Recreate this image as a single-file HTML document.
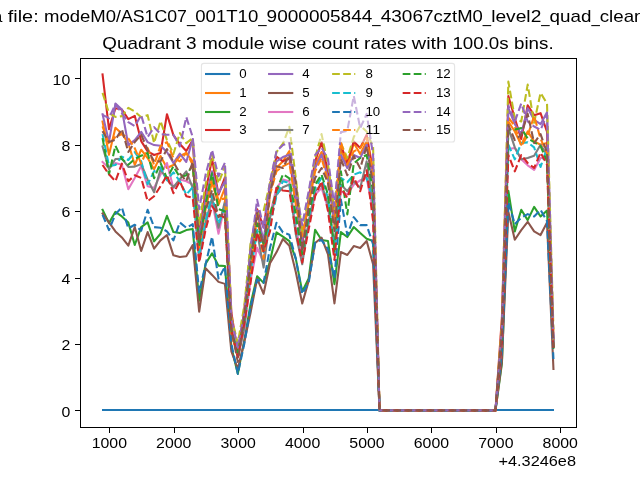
<!DOCTYPE html>
<html><head><meta charset="utf-8"><title>Quadrant 3 module wise count rates</title>
<style>
html,body{margin:0;padding:0;background:#fff;overflow:hidden}
body{width:640px;height:480px;font-family:"Liberation Sans",sans-serif}
svg{display:block}
svg text{font-family:"Liberation Sans",sans-serif;fill:#000}
svg{will-change:transform}
.ln{fill:none;stroke-width:2.0833;stroke-linejoin:round}
.s{stroke-linecap:square}
.d{stroke-linecap:butt;stroke-dasharray:7.708 3.333}
.tk{stroke:#000;stroke-width:1;shape-rendering:crispEdges}
</style></head>
<body>
<svg width="640" height="480" viewBox="0 0 640 480">
<rect x="0" y="0" width="640" height="480" fill="#fff"/>
<defs><clipPath id="ax"><rect x="80.00" y="57.60" width="496.00" height="369.60"/></clipPath></defs>
<g clip-path="url(#ax)">
<rect x="102" y="409" width="452" height="2" fill="#1f77b4" shape-rendering="crispEdges"/>
<polyline class="ln s" stroke="#ff7f0e" points="102.55,121.49 108.99,154.70 115.43,127.80 121.87,133.78 128.31,143.07 134.75,164.99 141.19,149.72 147.64,158.02 154.08,169.31 160.52,156.03 166.96,167.98 173.40,164.99 179.84,156.03 186.29,153.04 192.73,161.34 199.17,244.36 205.61,208.16 212.05,182.26 218.49,204.51 224.93,187.91 231.38,335.35 237.82,352.29 244.26,322.73 250.70,252.66 257.14,212.81 263.58,245.69 270.03,191.23 276.47,167.98 282.91,161.34 289.35,151.04 295.79,194.55 302.23,237.72 308.67,202.85 315.12,164.66 321.56,152.04 328.00,174.62 334.44,221.11 340.88,148.06 347.32,167.32 353.77,143.07 360.21,154.03 366.65,141.41 373.09,177.94 379.53,410.40 385.97,410.40 392.42,410.40 398.86,410.40 405.30,410.40 411.74,410.40 418.18,410.40 424.62,410.40 431.06,410.40 437.51,410.40 443.95,410.40 450.39,410.40 456.83,410.40 463.27,410.40 469.71,410.40 476.16,410.40 482.60,410.40 489.04,410.40 495.48,410.40 501.92,331.70 508.36,121.49 514.80,131.45 521.25,144.73 527.69,131.45 534.13,141.41 540.57,144.73 547.01,143.07 553.45,339.67"/>
<polyline class="ln s" stroke="#2ca02c" points="102.55,209.82 108.99,223.11 115.43,211.82 121.87,216.46 128.31,222.44 134.75,245.02 141.19,227.09 147.64,222.44 154.08,241.37 160.52,233.73 166.96,215.80 173.40,232.07 179.84,233.07 186.29,230.08 192.73,229.08 199.17,300.81 205.61,263.62 212.05,253.33 218.49,265.61 224.93,265.94 231.38,347.30 237.82,373.87 244.26,340.33 250.70,303.47 257.14,276.24 263.58,282.88 270.03,260.96 276.47,232.40 282.91,236.72 289.35,241.04 295.79,258.64 302.23,291.51 308.67,278.56 315.12,229.75 321.56,240.04 328.00,241.04 334.44,284.21 340.88,232.07 347.32,237.05 353.77,227.09 360.21,233.07 366.65,238.71 373.09,241.04 379.53,410.40 385.97,410.40 392.42,410.40 398.86,410.40 405.30,410.40 411.74,410.40 418.18,410.40 424.62,410.40 431.06,410.40 437.51,410.40 443.95,410.40 450.39,410.40 456.83,410.40 463.27,410.40 469.71,410.40 476.16,410.40 482.60,410.40 489.04,410.40 495.48,410.40 501.92,363.24 508.36,190.89 514.80,231.41 521.25,209.82 527.69,220.12 534.13,206.83 540.57,216.46 547.01,210.49 553.45,347.30"/>
<polyline class="ln s" stroke="#d62728" points="102.55,74.40 108.99,129.13 115.43,108.21 121.87,109.53 128.31,119.16 134.75,115.84 141.19,141.08 147.64,151.38 154.08,155.03 160.52,153.04 166.96,114.18 173.40,135.10 179.84,144.07 186.29,151.04 192.73,140.09 199.17,234.40 205.61,191.56 212.05,159.01 218.49,194.55 224.93,177.28 231.38,312.44 237.82,353.61 244.26,310.11 250.70,248.68 257.14,209.16 263.58,227.42 270.03,184.58 276.47,156.69 282.91,161.34 289.35,158.02 295.79,201.19 302.23,244.36 308.67,197.87 315.12,161.34 321.56,142.08 328.00,171.30 334.44,217.79 340.88,144.73 347.32,163.00 353.77,141.41 360.21,148.06 366.65,134.77 373.09,171.30 379.53,410.40 385.97,410.40 392.42,410.40 398.86,410.40 405.30,410.40 411.74,410.40 418.18,410.40 424.62,410.40 431.06,410.40 437.51,410.40 443.95,410.40 450.39,410.40 456.83,410.40 463.27,410.40 469.71,410.40 476.16,410.40 482.60,410.40 489.04,410.40 495.48,410.40 501.92,317.42 508.36,95.92 514.80,118.17 521.25,139.09 527.69,105.22 534.13,115.18 540.57,113.19 547.01,131.78 553.45,345.98"/>
<polyline class="ln s" stroke="#9467bd" points="102.55,114.18 108.99,142.08 115.43,103.56 121.87,109.53 128.31,145.07 134.75,140.09 141.19,131.78 147.64,142.08 154.08,145.07 160.52,145.73 166.96,152.04 173.40,163.00 179.84,153.70 186.29,162.00 192.73,139.09 199.17,237.72 205.61,199.53 212.05,171.30 218.49,193.22 224.93,181.26 231.38,322.40 237.82,350.63 244.26,321.40 250.70,245.02 257.14,210.82 263.58,241.37 270.03,187.91 276.47,161.34 282.91,157.02 289.35,154.70 295.79,197.87 302.23,241.04 308.67,201.19 315.12,167.98 321.56,154.70 328.00,177.94 334.44,224.43 340.88,154.70 347.32,167.98 353.77,155.03 360.21,158.02 366.65,144.73 373.09,181.26 379.53,410.40 385.97,410.40 392.42,410.40 398.86,410.40 405.30,410.40 411.74,410.40 418.18,410.40 424.62,410.40 431.06,410.40 437.51,410.40 443.95,410.40 450.39,410.40 456.83,410.40 463.27,410.40 469.71,410.40 476.16,410.40 482.60,410.40 489.04,410.40 495.48,410.40 501.92,327.05 508.36,108.21 514.80,124.15 521.25,134.11 527.69,108.21 534.13,119.83 540.57,124.15 547.01,112.19 553.45,342.32"/>
<polyline class="ln s" stroke="#8c564b" points="102.55,213.48 108.99,222.44 115.43,231.41 121.87,237.39 128.31,245.69 134.75,227.09 141.19,251.00 147.64,232.07 154.08,248.68 160.52,240.37 166.96,235.06 173.40,255.32 179.84,256.98 186.29,256.31 192.73,245.02 199.17,311.77 205.61,268.27 212.05,274.91 218.49,281.88 224.93,283.88 231.38,351.29 237.82,368.89 244.26,342.32 250.70,312.10 257.14,278.56 263.58,293.84 270.03,263.29 276.47,252.33 282.91,239.05 289.35,245.69 295.79,271.92 302.23,303.47 308.67,280.89 315.12,243.03 321.56,237.72 328.00,254.32 334.44,303.47 340.88,252.00 347.32,254.99 353.77,246.02 360.21,248.01 366.65,241.04 373.09,264.28 379.53,410.40 385.97,410.40 392.42,410.40 398.86,410.40 405.30,410.40 411.74,410.40 418.18,410.40 424.62,410.40 431.06,410.40 437.51,410.40 443.95,410.40 450.39,410.40 456.83,410.40 463.27,410.40 469.71,410.40 476.16,410.40 482.60,410.40 489.04,410.40 495.48,410.40 501.92,361.25 508.36,211.82 514.80,239.71 521.25,230.08 527.69,221.78 534.13,231.41 540.57,235.06 547.01,222.44 553.45,368.89"/>
<polyline class="ln s" stroke="#e377c2" points="102.55,162.00 108.99,167.98 115.43,163.00 121.87,164.66 128.31,189.23 134.75,177.94 141.19,165.99 147.64,186.25 154.08,187.91 160.52,174.62 166.96,163.00 173.40,188.24 179.84,179.60 186.29,181.26 192.73,184.58 199.17,259.30 205.61,225.10 212.05,201.19 218.49,233.73 224.93,204.51 231.38,323.73 237.82,356.60 244.26,330.04 250.70,279.23 257.14,247.68 263.58,262.62 270.03,214.47 276.47,187.91 282.91,179.60 289.35,181.26 295.79,227.76 302.23,257.64 308.67,224.43 315.12,194.55 321.56,187.91 328.00,207.83 334.44,247.68 340.88,191.23 347.32,194.55 353.77,184.58 360.21,180.27 366.65,177.94 373.09,211.15 379.53,410.40 385.97,410.40 392.42,410.40 398.86,410.40 405.30,410.40 411.74,410.40 418.18,410.40 424.62,410.40 431.06,410.40 437.51,410.40 443.95,410.40 450.39,410.40 456.83,410.40 463.27,410.40 469.71,410.40 476.16,410.40 482.60,410.40 489.04,410.40 495.48,410.40 501.92,341.66 508.36,149.05 514.80,148.06 521.25,159.35 527.69,165.32 534.13,169.97 540.57,158.02 547.01,158.02 553.45,345.31"/>
<polyline class="ln s" stroke="#7f7f7f" points="102.55,146.40 108.99,169.31 115.43,159.01 121.87,158.68 128.31,166.98 134.75,166.65 141.19,164.00 147.64,179.60 154.08,192.22 160.52,169.31 166.96,179.60 173.40,187.24 179.84,179.27 186.29,171.30 192.73,187.91 199.17,257.64 205.61,222.77 212.05,197.87 218.49,227.76 224.93,201.19 231.38,331.36 237.82,357.27 244.26,328.04 250.70,264.28 257.14,232.40 263.58,267.60 270.03,217.79 276.47,194.55 282.91,187.24 289.35,184.58 295.79,234.40 302.23,264.28 308.67,221.11 315.12,191.23 321.56,184.58 328.00,204.51 334.44,244.36 340.88,184.58 347.32,191.23 353.77,181.26 360.21,187.91 366.65,161.34 373.09,204.51 379.53,410.40 385.97,410.40 392.42,410.40 398.86,410.40 405.30,410.40 411.74,410.40 418.18,410.40 424.62,410.40 431.06,410.40 437.51,410.40 443.95,410.40 450.39,410.40 456.83,410.40 463.27,410.40 469.71,410.40 476.16,410.40 482.60,410.40 489.04,410.40 495.48,410.40 501.92,345.64 508.36,128.13 514.80,147.39 521.25,159.35 527.69,158.02 534.13,155.69 540.57,144.73 547.01,154.70 553.45,346.31"/>
<polyline class="ln d" stroke="#bcbd22" points="102.55,92.93 108.99,113.19 115.43,116.84 121.87,116.18 128.31,107.87 134.75,111.53 141.19,117.17 147.64,115.18 154.08,143.07 160.52,121.16 166.96,140.09 173.40,154.03 179.84,133.11 186.29,143.07 192.73,138.09 199.17,224.43 205.61,184.58 212.05,154.70 218.49,183.26 224.93,166.32 231.38,317.42 237.82,343.32 244.26,305.79 250.70,242.37 257.14,214.47 263.58,211.15 270.03,182.92 276.47,152.04 282.91,143.74 289.35,126.80 295.79,177.94 302.23,234.40 308.67,194.55 315.12,158.02 321.56,134.11 328.00,164.66 334.44,209.16 340.88,143.07 347.32,158.02 353.77,137.10 360.21,125.81 366.65,131.45 373.09,147.06 379.53,410.40 385.97,410.40 392.42,410.40 398.86,410.40 405.30,410.40 411.74,410.40 418.18,410.40 424.62,410.40 431.06,410.40 437.51,410.40 443.95,410.40 450.39,410.40 456.83,410.40 463.27,410.40 469.71,410.40 476.16,410.40 482.60,410.40 489.04,410.40 495.48,410.40 501.92,322.07 508.36,81.64 514.80,118.17 521.25,121.49 527.69,84.63 534.13,122.82 540.57,92.93 547.01,103.56 553.45,329.70"/>
<polyline class="ln d" stroke="#17becf" points="102.55,134.11 108.99,165.99 115.43,164.99 121.87,156.69 128.31,160.01 134.75,152.04 141.19,161.34 147.64,184.25 154.08,171.30 160.52,167.32 166.96,180.27 173.40,172.30 179.84,181.26 186.29,194.55 192.73,187.24 199.17,254.32 205.61,219.79 212.05,195.21 218.49,223.77 224.93,207.83 231.38,330.37 237.82,355.27 244.26,317.75 250.70,271.92 257.14,229.75 263.58,252.33 270.03,224.43 276.47,196.21 282.91,181.26 289.35,182.92 295.79,221.11 302.23,254.32 308.67,217.79 315.12,187.91 321.56,177.94 328.00,197.87 334.44,252.66 340.88,177.94 347.32,182.26 353.77,174.62 360.21,172.30 366.65,177.94 373.09,201.19 379.53,410.40 385.97,410.40 392.42,410.40 398.86,410.40 405.30,410.40 411.74,410.40 418.18,410.40 424.62,410.40 431.06,410.40 437.51,410.40 443.95,410.40 450.39,410.40 456.83,410.40 463.27,410.40 469.71,410.40 476.16,410.40 482.60,410.40 489.04,410.40 495.48,410.40 501.92,337.67 508.36,144.73 514.80,159.35 521.25,143.07 527.69,142.41 534.13,147.39 540.57,166.98 547.01,148.06 553.45,343.32"/>
<polyline class="ln d" stroke="#1f77b4" points="102.55,214.80 108.99,230.08 115.43,214.14 121.87,207.50 128.31,228.42 134.75,224.77 141.19,230.74 147.64,209.82 154.08,227.09 160.52,227.76 166.96,231.41 173.40,240.37 179.84,222.44 186.29,227.76 192.73,224.10 199.17,292.51 205.61,264.28 212.05,236.72 218.49,278.56 224.93,266.61 231.38,343.98 237.82,373.87 244.26,343.98 250.70,306.13 257.14,279.56 263.58,282.88 270.03,247.68 276.47,222.77 282.91,232.40 289.35,234.73 295.79,258.64 302.23,293.84 308.67,282.88 315.12,242.70 321.56,240.04 328.00,249.01 334.44,278.23 340.88,199.53 347.32,235.06 353.77,217.13 360.21,225.10 366.65,225.10 373.09,244.36 379.53,410.40 385.97,410.40 392.42,410.40 398.86,410.40 405.30,410.40 411.74,410.40 418.18,410.40 424.62,410.40 431.06,410.40 437.51,410.40 443.95,410.40 450.39,410.40 456.83,410.40 463.27,410.40 469.71,410.40 476.16,410.40 482.60,410.40 489.04,410.40 495.48,410.40 501.92,350.63 508.36,202.18 514.80,224.10 521.25,217.79 527.69,214.14 534.13,216.46 540.57,209.82 547.01,221.11 553.45,358.93"/>
<polyline class="ln d" stroke="#ff7f0e" points="102.55,126.47 108.99,144.73 115.43,136.76 121.87,134.11 128.31,138.43 134.75,148.06 141.19,163.66 147.64,148.06 154.08,164.66 160.52,146.06 166.96,142.08 173.40,158.02 179.84,161.34 186.29,152.70 192.73,164.66 199.17,247.68 205.61,207.83 212.05,177.94 218.49,200.19 224.93,198.20 231.38,333.69 237.82,354.61 244.26,317.09 250.70,271.92 257.14,215.14 263.58,258.64 270.03,194.55 276.47,171.30 282.91,166.32 289.35,163.00 295.79,204.51 302.23,236.06 308.67,204.51 315.12,171.30 321.56,158.02 328.00,181.26 334.44,227.76 340.88,142.08 347.32,164.66 353.77,151.38 360.21,148.06 366.65,138.09 373.09,174.62 379.53,410.40 385.97,410.40 392.42,410.40 398.86,410.40 405.30,410.40 411.74,410.40 418.18,410.40 424.62,410.40 431.06,410.40 437.51,410.40 443.95,410.40 450.39,410.40 456.83,410.40 463.27,410.40 469.71,410.40 476.16,410.40 482.60,410.40 489.04,410.40 495.48,410.40 501.92,326.72 508.36,117.50 514.80,126.14 521.25,146.06 527.69,135.44 534.13,116.18 540.57,138.76 547.01,153.04 553.45,340.33"/>
<polyline class="ln d" stroke="#2ca02c" points="102.55,138.09 108.99,174.29 115.43,145.73 121.87,159.01 128.31,164.66 134.75,159.01 141.19,155.69 147.64,153.04 154.08,178.28 160.52,163.00 166.96,178.28 173.40,166.32 179.84,177.28 186.29,175.29 192.73,164.99 199.17,246.02 205.61,204.51 212.05,173.29 218.49,209.16 224.93,211.15 231.38,330.37 237.82,352.62 244.26,319.74 250.70,257.97 257.14,223.44 263.58,243.70 270.03,214.47 276.47,191.23 282.91,174.29 289.35,178.28 295.79,214.47 302.23,254.32 308.67,214.47 315.12,184.58 321.56,174.62 328.00,194.55 334.44,251.00 340.88,171.30 347.32,214.47 353.77,163.33 360.21,158.02 366.65,155.03 373.09,191.23 379.53,410.40 385.97,410.40 392.42,410.40 398.86,410.40 405.30,410.40 411.74,410.40 418.18,410.40 424.62,410.40 431.06,410.40 437.51,410.40 443.95,410.40 450.39,410.40 456.83,410.40 463.27,410.40 469.71,410.40 476.16,410.40 482.60,410.40 489.04,410.40 495.48,410.40 501.92,337.34 508.36,129.46 514.80,129.46 521.25,128.13 527.69,138.43 534.13,142.08 540.57,146.06 547.01,161.34 553.45,348.63"/>
<polyline class="ln d" stroke="#d62728" points="102.55,164.99 108.99,174.29 115.43,181.26 121.87,163.66 128.31,181.26 134.75,175.29 141.19,177.94 147.64,201.19 154.08,196.21 160.52,186.25 166.96,175.29 173.40,193.22 179.84,181.26 186.29,196.21 192.73,197.87 199.17,262.62 205.61,229.42 212.05,206.17 218.49,214.47 224.93,217.79 231.38,330.04 237.82,357.27 244.26,323.39 250.70,281.88 257.14,232.40 263.58,251.33 270.03,231.08 276.47,187.91 282.91,190.56 289.35,191.23 295.79,231.08 302.23,262.62 308.67,229.42 315.12,196.21 321.56,181.26 328.00,211.15 334.44,259.97 340.88,187.91 347.32,197.87 353.77,177.28 360.21,191.23 366.65,170.31 373.09,221.11 379.53,410.40 385.97,410.40 392.42,410.40 398.86,410.40 405.30,410.40 411.74,410.40 418.18,410.40 424.62,410.40 431.06,410.40 437.51,410.40 443.95,410.40 450.39,410.40 456.83,410.40 463.27,410.40 469.71,410.40 476.16,410.40 482.60,410.40 489.04,410.40 495.48,410.40 501.92,340.99 508.36,155.03 514.80,171.30 521.25,155.03 527.69,163.00 534.13,167.98 540.57,152.70 547.01,164.66 553.45,350.63"/>
<polyline class="ln d" stroke="#9467bd" points="102.55,114.85 108.99,118.17 115.43,104.22 121.87,113.19 128.31,122.15 134.75,126.14 141.19,115.18 147.64,137.10 154.08,127.13 160.52,134.11 166.96,134.77 173.40,134.77 179.84,146.40 186.29,117.17 192.73,137.10 199.17,209.16 205.61,174.62 212.05,150.05 218.49,176.28 224.93,162.67 231.38,318.75 237.82,347.64 244.26,313.10 250.70,249.01 257.14,199.86 263.58,227.76 270.03,181.26 276.47,151.38 282.91,145.07 289.35,143.07 295.79,187.91 302.23,225.10 308.67,191.23 315.12,155.03 321.56,147.72 328.00,159.01 334.44,206.17 340.88,132.12 347.32,130.79 353.77,95.92 360.21,128.13 366.65,113.85 373.09,155.03 379.53,410.40 385.97,410.40 392.42,410.40 398.86,410.40 405.30,410.40 411.74,410.40 418.18,410.40 424.62,410.40 431.06,410.40 437.51,410.40 443.95,410.40 450.39,410.40 456.83,410.40 463.27,410.40 469.71,410.40 476.16,410.40 482.60,410.40 489.04,410.40 495.48,410.40 501.92,328.71 508.36,105.55 514.80,121.49 521.25,103.56 527.69,121.49 534.13,126.47 540.57,129.79 547.01,114.85 553.45,339.33"/>
<polyline class="ln d" stroke="#8c564b" points="102.55,131.12 108.99,142.08 115.43,139.75 121.87,129.13 128.31,152.04 134.75,142.08 141.19,134.77 147.64,149.72 154.08,161.34 160.52,161.34 166.96,149.05 173.40,162.00 179.84,173.29 186.29,181.26 192.73,162.00 199.17,241.04 205.61,210.49 212.05,190.23 218.49,217.13 224.93,212.81 231.38,328.71 237.82,361.92 244.26,315.42 250.70,262.62 257.14,213.14 263.58,249.34 270.03,192.89 276.47,166.32 282.91,167.98 289.35,155.03 295.79,181.26 302.23,251.00 308.67,207.83 315.12,177.94 321.56,167.98 328.00,182.92 334.44,231.08 340.88,159.01 347.32,175.29 353.77,156.03 360.21,168.31 366.65,146.06 373.09,184.58 379.53,410.40 385.97,410.40 392.42,410.40 398.86,410.40 405.30,410.40 411.74,410.40 418.18,410.40 424.62,410.40 431.06,410.40 437.51,410.40 443.95,410.40 450.39,410.40 456.83,410.40 463.27,410.40 469.71,410.40 476.16,410.40 482.60,410.40 489.04,410.40 495.48,410.40 501.92,329.04 508.36,124.81 514.80,140.09 521.25,134.77 527.69,113.85 534.13,143.07 540.57,134.11 547.01,152.70 553.45,347.30"/>
</g>
<path class="tk" fill="none" d="M80.5 58 V428 M576.5 58 V428 M80 58.5 H577 M80 427.5 H577"/>
<line class="tk" x1="109.5" x2="109.5" y1="428" y2="432.5"/>
<line class="tk" x1="174.5" x2="174.5" y1="428" y2="432.5"/>
<line class="tk" x1="238.5" x2="238.5" y1="428" y2="432.5"/>
<line class="tk" x1="303.5" x2="303.5" y1="428" y2="432.5"/>
<line class="tk" x1="367.5" x2="367.5" y1="428" y2="432.5"/>
<line class="tk" x1="431.5" x2="431.5" y1="428" y2="432.5"/>
<line class="tk" x1="496.5" x2="496.5" y1="428" y2="432.5"/>
<line class="tk" x1="560.5" x2="560.5" y1="428" y2="432.5"/>
<line class="tk" x1="75" x2="80" y1="410.5" y2="410.5"/>
<line class="tk" x1="75" x2="80" y1="344.5" y2="344.5"/>
<line class="tk" x1="75" x2="80" y1="278.5" y2="278.5"/>
<line class="tk" x1="75" x2="80" y1="211.5" y2="211.5"/>
<line class="tk" x1="75" x2="80" y1="145.5" y2="145.5"/>
<line class="tk" x1="75" x2="80" y1="78.5" y2="78.5"/>
<text x="91.69" y="447.60" font-size="14.17" textLength="35.31" lengthAdjust="spacingAndGlyphs">1000</text>
<text x="156.11" y="447.60" font-size="14.17" textLength="35.31" lengthAdjust="spacingAndGlyphs">2000</text>
<text x="220.52" y="447.60" font-size="14.17" textLength="35.31" lengthAdjust="spacingAndGlyphs">3000</text>
<text x="284.94" y="447.60" font-size="14.17" textLength="35.31" lengthAdjust="spacingAndGlyphs">4000</text>
<text x="349.35" y="447.60" font-size="14.17" textLength="35.31" lengthAdjust="spacingAndGlyphs">5000</text>
<text x="413.77" y="447.60" font-size="14.17" textLength="35.31" lengthAdjust="spacingAndGlyphs">6000</text>
<text x="478.19" y="447.60" font-size="14.17" textLength="35.31" lengthAdjust="spacingAndGlyphs">7000</text>
<text x="542.60" y="447.60" font-size="14.17" textLength="35.31" lengthAdjust="spacingAndGlyphs">8000</text>
<text x="61.45" y="416.60" font-size="14.17" textLength="8.83" lengthAdjust="spacingAndGlyphs">0</text>
<text x="61.45" y="350.18" font-size="14.17" textLength="8.83" lengthAdjust="spacingAndGlyphs">2</text>
<text x="61.45" y="283.77" font-size="14.17" textLength="8.83" lengthAdjust="spacingAndGlyphs">4</text>
<text x="61.45" y="217.35" font-size="14.17" textLength="8.83" lengthAdjust="spacingAndGlyphs">6</text>
<text x="61.45" y="150.93" font-size="14.17" textLength="8.83" lengthAdjust="spacingAndGlyphs">8</text>
<text x="52.62" y="84.52" font-size="14.17" textLength="17.66" lengthAdjust="spacingAndGlyphs">10</text>
<text x="498.46" y="465.80" font-size="14.17" textLength="77.54" lengthAdjust="spacingAndGlyphs">+4.3246e8</text>
<text x="102.39" y="48.50" font-size="17.00" textLength="78.44" lengthAdjust="spacingAndGlyphs">Quadrant</text>
<text x="186.12" y="48.50" font-size="17.00" textLength="10.58" lengthAdjust="spacingAndGlyphs">3</text>
<text x="201.98" y="48.50" font-size="17.00" textLength="62.30" lengthAdjust="spacingAndGlyphs">module</text>
<text x="269.56" y="48.50" font-size="17.00" textLength="37.11" lengthAdjust="spacingAndGlyphs">wise</text>
<text x="311.96" y="48.50" font-size="17.00" textLength="46.90" lengthAdjust="spacingAndGlyphs">count</text>
<text x="364.14" y="48.50" font-size="17.00" textLength="42.43" lengthAdjust="spacingAndGlyphs">rates</text>
<text x="411.86" y="48.50" font-size="17.00" textLength="35.27" lengthAdjust="spacingAndGlyphs">with</text>
<text x="452.42" y="48.50" font-size="17.00" textLength="56.26" lengthAdjust="spacingAndGlyphs">100.0s</text>
<text x="513.96" y="48.50" font-size="17.00" textLength="39.65" lengthAdjust="spacingAndGlyphs">bins.</text>
<text x="-134.53" y="21.90" font-size="17.00" textLength="78.44" lengthAdjust="spacingAndGlyphs">Quadrant</text>
<text x="-50.81" y="21.90" font-size="17.00" textLength="10.58" lengthAdjust="spacingAndGlyphs">3</text>
<text x="-34.95" y="21.90" font-size="17.00" textLength="37.45" lengthAdjust="spacingAndGlyphs">data</text>
<text x="7.79" y="21.90" font-size="17.00" textLength="30.92" lengthAdjust="spacingAndGlyphs">file:</text>
<text x="43.99" y="21.90" font-size="17.00" textLength="72.07" lengthAdjust="spacingAndGlyphs">modeM0</text>
<text x="116.06" y="21.90" font-size="17.00" textLength="70.87" lengthAdjust="spacingAndGlyphs">/AS1C07</text>
<text x="186.93" y="23.20" font-size="17.00" textLength="8.31" lengthAdjust="spacingAndGlyphs">_</text>
<text x="195.24" y="21.90" font-size="17.00" textLength="63.04" lengthAdjust="spacingAndGlyphs">001T10</text>
<text x="258.28" y="23.20" font-size="17.00" textLength="8.31" lengthAdjust="spacingAndGlyphs">_</text>
<text x="266.59" y="21.90" font-size="17.00" textLength="52.89" lengthAdjust="spacingAndGlyphs">90000</text>
<text x="319.48" y="21.90" font-size="17.00" textLength="52.89" lengthAdjust="spacingAndGlyphs">05844</text>
<text x="372.37" y="23.20" font-size="17.00" textLength="8.31" lengthAdjust="spacingAndGlyphs">_</text>
<text x="380.68" y="21.90" font-size="17.00" textLength="52.89" lengthAdjust="spacingAndGlyphs">43067</text>
<text x="433.57" y="21.90" font-size="17.00" textLength="49.31" lengthAdjust="spacingAndGlyphs">cztM0</text>
<text x="482.87" y="23.20" font-size="17.00" textLength="8.31" lengthAdjust="spacingAndGlyphs">_</text>
<text x="491.19" y="21.90" font-size="17.00" textLength="50.11" lengthAdjust="spacingAndGlyphs">level2</text>
<text x="541.30" y="23.20" font-size="17.00" textLength="8.31" lengthAdjust="spacingAndGlyphs">_</text>
<text x="549.61" y="21.90" font-size="17.00" textLength="41.83" lengthAdjust="spacingAndGlyphs">quad</text>
<text x="591.44" y="23.20" font-size="17.00" textLength="8.31" lengthAdjust="spacingAndGlyphs">_</text>
<text x="599.75" y="21.90" font-size="17.00" textLength="44.71" lengthAdjust="spacingAndGlyphs">clean</text>
<text x="644.46" y="21.90" font-size="17.00" textLength="31.87" lengthAdjust="spacingAndGlyphs">.evt</text>
<rect x="201.44" y="63.38" width="253.12" height="78.61" rx="2.3" ry="2.3" fill="#fff" fill-opacity="0.5" stroke="#ccc" stroke-opacity="0.5" stroke-width="1.11"/>
<line class="ln s" stroke="#1f77b4" x1="206.06" x2="229.20" y1="74.00" y2="74.00"/>
<text x="239.36" y="78.01" font-size="12.55" textLength="7.40" lengthAdjust="spacingAndGlyphs">0</text>
<line class="ln s" stroke="#ff7f0e" x1="206.06" x2="229.20" y1="93.00" y2="93.00"/>
<text x="239.36" y="96.80" font-size="12.55" textLength="7.40" lengthAdjust="spacingAndGlyphs">1</text>
<line class="ln s" stroke="#2ca02c" x1="206.06" x2="229.20" y1="112.00" y2="112.00"/>
<text x="239.36" y="115.58" font-size="12.55" textLength="7.40" lengthAdjust="spacingAndGlyphs">2</text>
<line class="ln s" stroke="#d62728" x1="206.06" x2="229.20" y1="130.00" y2="130.00"/>
<text x="239.36" y="134.37" font-size="12.55" textLength="7.40" lengthAdjust="spacingAndGlyphs">3</text>
<line class="ln s" stroke="#9467bd" x1="269.10" x2="292.24" y1="74.00" y2="74.00"/>
<text x="302.39" y="78.01" font-size="12.55" textLength="7.40" lengthAdjust="spacingAndGlyphs">4</text>
<line class="ln s" stroke="#8c564b" x1="269.10" x2="292.24" y1="93.00" y2="93.00"/>
<text x="302.39" y="96.80" font-size="12.55" textLength="7.40" lengthAdjust="spacingAndGlyphs">5</text>
<line class="ln s" stroke="#e377c2" x1="269.10" x2="292.24" y1="112.00" y2="112.00"/>
<text x="302.39" y="115.58" font-size="12.55" textLength="7.40" lengthAdjust="spacingAndGlyphs">6</text>
<line class="ln s" stroke="#7f7f7f" x1="269.10" x2="292.24" y1="130.00" y2="130.00"/>
<text x="302.39" y="134.37" font-size="12.55" textLength="7.40" lengthAdjust="spacingAndGlyphs">7</text>
<line class="ln d" stroke="#bcbd22" x1="332.13" x2="355.27" y1="74.00" y2="74.00"/>
<text x="365.43" y="78.01" font-size="12.55" textLength="7.40" lengthAdjust="spacingAndGlyphs">8</text>
<line class="ln d" stroke="#17becf" x1="332.13" x2="355.27" y1="93.00" y2="93.00"/>
<text x="365.43" y="96.80" font-size="12.55" textLength="7.40" lengthAdjust="spacingAndGlyphs">9</text>
<line class="ln d" stroke="#1f77b4" x1="332.13" x2="355.27" y1="112.00" y2="112.00"/>
<text x="365.43" y="115.58" font-size="12.55" textLength="14.79" lengthAdjust="spacingAndGlyphs">10</text>
<line class="ln d" stroke="#ff7f0e" x1="332.13" x2="355.27" y1="130.00" y2="130.00"/>
<text x="365.43" y="134.37" font-size="12.55" textLength="14.79" lengthAdjust="spacingAndGlyphs">11</text>
<line class="ln d" stroke="#2ca02c" x1="402.67" x2="425.80" y1="74.00" y2="74.00"/>
<text x="435.96" y="78.01" font-size="12.55" textLength="14.79" lengthAdjust="spacingAndGlyphs">12</text>
<line class="ln d" stroke="#d62728" x1="402.67" x2="425.80" y1="93.00" y2="93.00"/>
<text x="435.96" y="96.80" font-size="12.55" textLength="14.79" lengthAdjust="spacingAndGlyphs">13</text>
<line class="ln d" stroke="#9467bd" x1="402.67" x2="425.80" y1="112.00" y2="112.00"/>
<text x="435.96" y="115.58" font-size="12.55" textLength="14.79" lengthAdjust="spacingAndGlyphs">14</text>
<line class="ln d" stroke="#8c564b" x1="402.67" x2="425.80" y1="130.00" y2="130.00"/>
<text x="435.96" y="134.37" font-size="12.55" textLength="14.79" lengthAdjust="spacingAndGlyphs">15</text>
</svg>
</body></html>
